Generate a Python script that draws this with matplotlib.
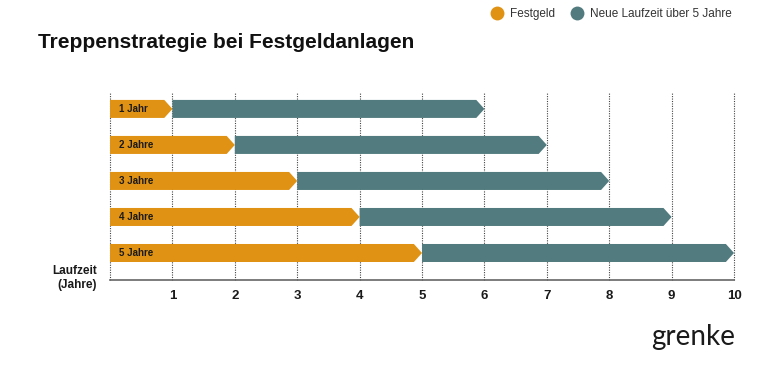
import matplotlib.pyplot as plt
from matplotlib.patches import Polygon
from matplotlib.lines import Line2D

plt.rcParams["font.family"] = ["Liberation Sans", "DejaVu Sans"]

# Daten
labels = ["1 Jahr", "2 Jahre", "3 Jahre", "4 Jahre", "5 Jahre"]
festgeld = [1, 2, 3, 4, 5]
neue_laufzeit = [5, 5, 5, 5, 5]
ticks = [1, 2, 3, 4, 5, 6, 7, 8, 9, 10]

ORANGE = "#E09214"
TEAL = "#527B7F"
TIP = 0.13
HEIGHT = 0.5


def arrow(ax, start, end, y, color):
    h = HEIGHT / 2
    pts = [(start, y - h), (end - TIP, y - h), (end, y),
           (end - TIP, y + h), (start, y + h)]
    ax.add_patch(Polygon(pts, closed=True, facecolor=color, edgecolor="none", zorder=3))


fig = plt.figure(figsize=(7.68, 3.66), dpi=100)
ax = fig.add_axes([110 / 768, 1 - 280 / 366, 624 / 768, 188 / 366])

for i, (lab, fg, nl) in enumerate(zip(labels, festgeld, neue_laufzeit)):
    arrow(ax, 0, fg, i, ORANGE)
    arrow(ax, fg, fg + nl, i, TEAL)
    ax.text(0.15, i, lab, fontsize=7, fontweight="bold", va="center", ha="left",
            color="#1a1a1a", zorder=4)

for t in [0] + ticks:
    ax.axvline(t, color="#444444", lw=0.8, ls=(0, (1, 1.2)), zorder=1, clip_on=False)

ax.set_xlim(0, 10)
ax.set_ylim(4.75, -0.47)
ax.set_xticks(ticks)
ax.set_xticklabels([str(t) for t in ticks], fontsize=9.5, color="#1a1a1a")
for lbl in ax.get_xticklabels():
    lbl.set_fontweight("semibold")
ax.tick_params(axis="x", length=0, pad=7)
ax.set_yticks([])
for side in ["top", "right", "left"]:
    ax.spines[side].set_visible(False)
ax.spines["bottom"].set_color("#666666")
ax.spines["bottom"].set_linewidth(1.2)

fig.text(97 / 768, 1 - 278 / 366, "Laufzeit\n(Jahre)", fontsize=8.5, fontweight="bold",
         ha="right", va="center", linespacing=1.3, color="#1a1a1a")

fig.text(38 / 768, 1 - 42 / 366, "Treppenstrategie bei Festgeldanlagen", fontsize=15,
         fontweight="bold", ha="left", va="center", color="#111111")

# Legende
handles = [
    Line2D([], [], marker="o", ls="none", markersize=10, markerfacecolor=ORANGE,
           markeredgecolor="none", label="Festgeld"),
    Line2D([], [], marker="o", ls="none", markersize=10, markerfacecolor=TEAL,
           markeredgecolor="none", label="Neue Laufzeit über 5 Jahre"),
]
fig.legend(handles=handles, loc="center right", bbox_to_anchor=(742 / 768, 1 - 14 / 366),
           ncol=2, frameon=False, fontsize=8.5, handletextpad=0.1, columnspacing=0.8,
           labelcolor="#333333")

fig.text(735 / 768, 1 - 337 / 366, "grenke", fontsize=20, ha="right", va="center",
         color="#1a1a1a", family=["Lato", "DejaVu Sans"])

fig.savefig("out.png", dpi=100)
